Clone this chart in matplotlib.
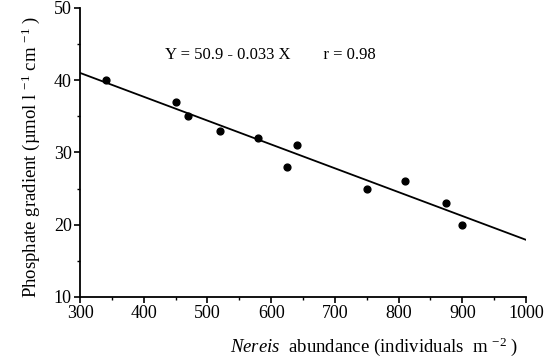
import numpy as np
import matplotlib
matplotlib.use("Agg")
import matplotlib.pyplot as plt
from matplotlib.ticker import MultipleLocator

plt.rcParams["font.family"] = ["Liberation Serif", "DejaVu Serif"]
plt.rcParams["mathtext.fontset"] = "custom"
plt.rcParams["mathtext.rm"] = "Liberation Serif"
plt.rcParams["mathtext.it"] = "Liberation Serif:italic"

# Nereis 丰度与磷酸盐梯度
abundance = [340, 450, 470, 520, 580, 625, 640, 750, 810, 875, 900]
gradient = [40, 37, 35, 33, 32, 28, 31, 25, 26, 23, 20]

# 回归线 Y = 50.9 - 0.033 X
intercept = 50.9
slope = -0.033
line_x = np.array([300, 1000])

fig = plt.figure(figsize=(5.56, 3.59), dpi=100)
ax = fig.add_axes([0.144, 0.173, 0.802, 0.805])

ax.scatter(abundance, gradient, s=24, color="black", zorder=3)
ax.plot(line_x, intercept + slope * line_x, color="black", lw=1.3)

ax.set_xlim(300, 1000)
ax.set_ylim(10, 50)
ax.xaxis.set_major_locator(MultipleLocator(100))
ax.xaxis.set_minor_locator(MultipleLocator(50))
ax.yaxis.set_major_locator(MultipleLocator(10))
ax.yaxis.set_minor_locator(MultipleLocator(5))
ax.spines["top"].set_visible(False)
ax.spines["right"].set_visible(False)
ax.spines["left"].set_linewidth(1.3)
ax.spines["bottom"].set_linewidth(1.3)
ax.tick_params(which="major", direction="out", length=4, width=1.2, labelsize=13, pad=2)
ax.tick_params(which="minor", direction="out", length=2.5, width=1)

ax.text(433, 43.5, "Y = 50.9 - 0.033 X        r = 0.98", fontsize=12, va="center")

ax.set_ylabel("Phosphate gradient (µmol l $^{-1}$ cm $^{-1}$ )", fontsize=13.5)
ax.yaxis.set_label_coords(-0.085, 0.484)
ax.set_xlabel(r"$\it{Nereis}$  abundance (individuals  m $^{-2}$ )", fontsize=13.5)
ax.xaxis.set_label_coords(0.66, -0.135)

fig.savefig("out.png", dpi=100)
